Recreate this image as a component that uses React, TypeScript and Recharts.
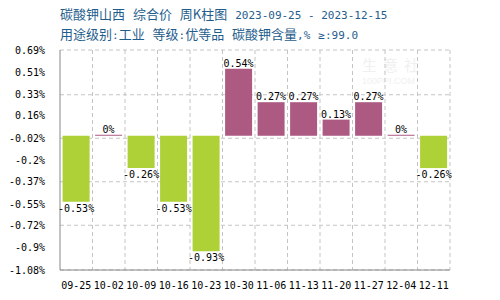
import { BarChart, Bar, XAxis, YAxis, CartesianGrid, Cell, LabelList } from 'recharts';

const weeks = ['09-25', '10-02', '10-09', '10-16', '10-23', '10-30', '11-06', '11-13', '11-20', '11-27', '12-04', '12-11'];
const changes = [-0.53, 0, -0.26, -0.53, -0.93, 0.54, 0.27, 0.27, 0.13, 0.27, 0, -0.26];
const yTicks = [0.69, 0.51, 0.33, 0.16, -0.02, -0.2, -0.37, -0.55, -0.72, -0.9, -1.08];

const UP = '#ad5a82';
const DOWN = '#add136';
const MONO = '"DejaVu Sans Mono", "Liberation Mono", monospace';
const CJK = '"Noto Sans CJK SC", sans-serif';

const data = weeks.map((w, i) => ({ week: w, change: changes[i] }));

function BarLabel(props: any) {
  const { x, y, width, height, value } = props;
  const top = Math.min(y, y + height);
  const bottom = Math.max(y, y + height);
  const cx = x + width / 2;
  const ty = value < 0 ? bottom + 10 : top - 2;
  return (
    <text x={cx} y={ty} textAnchor="middle" fontSize={10} fontFamily={MONO} fill="#000">
      {value + '%'}
    </text>
  );
}

const titleStyle: any = {
  position: 'absolute',
  left: 60,
  fontSize: 13,
  color: '#1f5d8c',
  fontFamily: CJK,
  whiteSpace: 'pre',
  lineHeight: '16px',
  wordSpacing: 5,
};
const mono: any = { fontFamily: MONO, fontSize: 11, wordSpacing: 0 };

export default function App() {
  return (
    <div style={{ position: 'absolute', left: 0, top: 0, width: 500, height: 300, background: '#fff' }}>
      <div style={{ ...titleStyle, top: 6 }}>
        碳酸钾山西 综合价 周K柱图 <span style={mono}>2023-09-25 - 2023-12-15</span>
      </div>
      <div style={{ ...titleStyle, top: 26 }}>
        用途级别<span style={mono}>:</span>工业 等级<span style={mono}>:</span>优等品 碳酸钾含量<span style={mono}>,%</span> <span style={mono}>≥:99.0</span>
      </div>
      <div style={{ position: 'absolute', left: 362, top: 54, fontSize: 15, color: '#f0f0f0', fontFamily: CJK, letterSpacing: 6 }}>生意社</div>
      <div style={{ position: 'absolute', left: 362, top: 76, fontSize: 9, color: '#f0f0f0', fontFamily: 'Arial, sans-serif' }}>100PPI.COM</div>
      <BarChart
        width={500}
        height={300}
        data={data}
        margin={{ top: 50, right: 50, left: 5, bottom: 0 }}
        barCategoryGap="8%"
        style={{ position: 'absolute', left: 0, top: 0 }}
      >
        <CartesianGrid
          stroke="#c4c4c4"
          strokeDasharray="4 3"
          verticalCoordinatesGenerator={({ offset }: any) =>
            weeks.map((_, i) => offset.left + ((i + 1) * offset.width) / weeks.length)
          }
        />
        <XAxis
          dataKey="week"
          height={30}
          tickLine={false}
          axisLine={{ stroke: '#888' }}
          tickMargin={6}
          interval={0}
          tick={{ fill: '#000', fontSize: 10, fontFamily: MONO }}
        />
        <YAxis
          width={55}
          domain={[-1.08, 0.69]}
          ticks={yTicks}
          tickLine={false}
          axisLine={{ stroke: '#888' }}
          tickMargin={9}
          tickFormatter={(v) => `${v}%`}
          tick={{ fill: '#000', fontSize: 10, fontFamily: MONO }}
        />
        <Bar dataKey="change" isAnimationActive={false} minPointSize={1}>
          {data.map((d) => (
            <Cell key={d.week} fill={d.change < 0 ? DOWN : UP} />
          ))}
          <LabelList dataKey="change" content={BarLabel} />
        </Bar>
      </BarChart>
    </div>
  );
}
